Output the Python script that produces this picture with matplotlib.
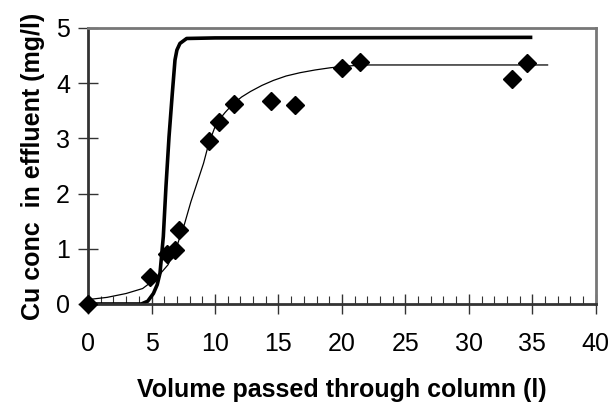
import numpy as np
import matplotlib
matplotlib.use('Agg')
import matplotlib.pyplot as plt
from matplotlib.ticker import MultipleLocator

# measured Cu in column effluent
vol_obs = [0, 4.9, 6.25, 6.85, 7.2, 9.5, 10.3, 11.5, 14.4, 16.3, 20.0, 21.4, 33.4, 34.6]
cu_obs = [0, 0.48, 0.90, 0.97, 1.34, 2.96, 3.30, 3.62, 3.68, 3.60, 4.28, 4.38, 4.08, 4.36]

# fitted breakthrough curve (thin)
vol_fit = [0, 1.5, 3.0, 4.3, 5.4, 6.3, 7.0, 7.6, 8.1, 8.6, 9.1, 9.5, 10.1, 10.8,
           11.4, 12.1, 12.8, 13.7, 14.6, 15.6, 16.7, 17.9, 19.1, 20.0, 21.0, 22.0, 23.0, 36.2]
cu_fit = [0.08, 0.12, 0.19, 0.28, 0.47, 0.71, 1.05, 1.45, 1.85, 2.2, 2.55, 2.9, 3.27,
          3.47, 3.62, 3.75, 3.85, 3.96, 4.05, 4.13, 4.19, 4.24, 4.28, 4.30, 4.32, 4.33, 4.33, 4.33]

# ideal breakthrough curve (thick)
vol_ideal = [0, 4.2, 4.7, 5.15, 5.45, 5.67, 5.93, 6.14, 6.38, 6.64, 6.85, 7.0, 7.24,
             7.77, 10.0, 35.0]
cu_ideal = [0, 0, 0.05, 0.19, 0.35, 0.56, 1.22, 2.13, 3.03, 3.82, 4.42, 4.6, 4.72,
            4.81, 4.82, 4.83]

plt.rcParams['font.family'] = ['Liberation Sans', 'DejaVu Sans']

fig = plt.figure(figsize=(6.13, 4.05), dpi=100)
ax = fig.add_axes([0.1436, 0.2494, 0.8284, 0.6815])

ax.plot(vol_ideal, cu_ideal, color='black', lw=2.6, solid_capstyle='butt', zorder=2)
ax.plot(vol_fit, cu_fit, color='black', lw=0.9, zorder=2)
ax.plot(vol_obs, cu_obs, 'D', color='black', markersize=9.5, clip_on=False, zorder=3)

ax.set_xlim(0, 40)
ax.set_ylim(0, 5)
ax.xaxis.set_major_locator(MultipleLocator(5))
ax.xaxis.set_minor_locator(MultipleLocator(1))
ax.yaxis.set_major_locator(MultipleLocator(1))

ax.tick_params(axis='both', which='major', direction='inout', length=14, width=1,
               labelsize=18, color='#333333')
ax.tick_params(axis='x', which='major', pad=13)
ax.tick_params(axis='y', which='major', pad=6)
ax.tick_params(axis='x', which='minor', direction='in', length=6, width=0.8, color='#333333')

for name, sp in ax.spines.items():
    sp.set_linewidth(2)
    sp.set_color('#333333' if name in ('left', 'bottom') else '#777777')

ax.set_xlabel('Volume passed through column (l)', fontsize=18, fontweight='bold', labelpad=16)
ax.set_ylabel('Cu conc  in effluent (mg/l)', fontsize=18, fontweight='bold', labelpad=8)

fig.savefig('out.png', dpi=100)
